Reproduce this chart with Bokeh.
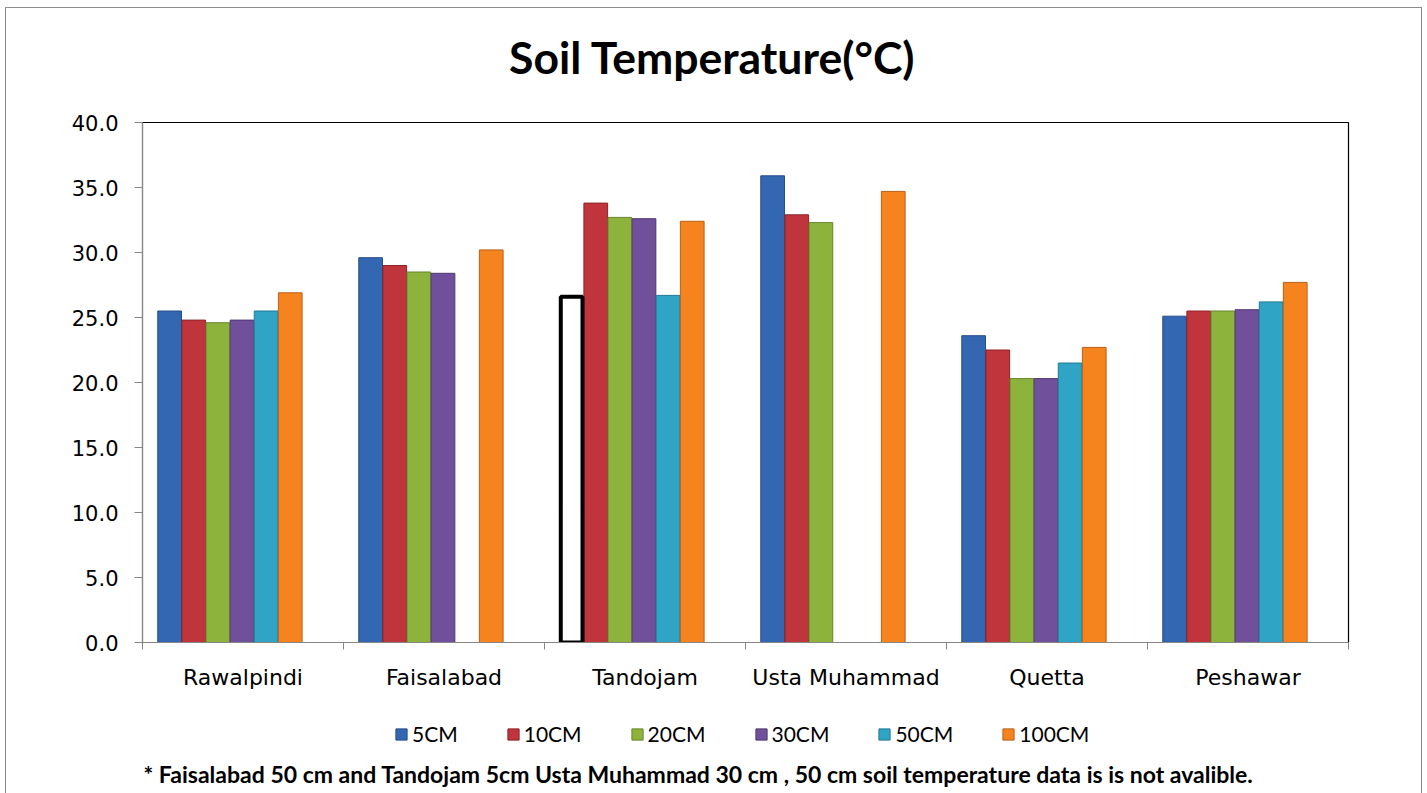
from bokeh.plotting import figure
from bokeh.layouts import column
from bokeh.models import (ColumnDataSource, FixedTicker, Legend, LegendItem,
                          Label, NumeralTickFormatter)
from bokeh.transform import dodge
from bokeh.embed import file_html
from bokeh.resources import INLINE

nan = float("nan")

cities = ["Rawalpindi", "Faisalabad", "Tandojam", "Usta Muhammad", "Quetta", "Peshawar"]
depths = ["5CM", "10CM", "20CM", "30CM", "50CM", "100CM"]

t5 = [25.5, 29.6, nan, 35.9, 23.6, 25.1]
t10 = [24.8, 29.0, 33.8, 32.9, 22.5, 25.5]
t20 = [24.6, 28.5, 32.7, 32.3, 20.3, 25.5]
t30 = [24.8, 28.4, 32.6, nan, 20.3, 25.6]
t50 = [25.5, nan, 26.7, nan, 21.5, 26.2]
t100 = [26.9, 30.2, 32.4, 34.7, 22.7, 27.7]

# hollow black placeholder box drawn in the Tandojam 5CM slot
placeholder_city = ["Tandojam"]
placeholder_value = [26.6]

y_ticks = [0, 5, 10, 15, 20, 25, 30, 35, 40]

title_text = "Soil Temperature(°C)"
footnote = ("* Faisalabad 50 cm and Tandojam 5cm Usta Muhammad 30 cm , 50 cm  "
            "soil temperature data  is is not avalible.")

series = [t5, t10, t20, t30, t50, t100]
colors = ["#3467B1", "#C0353B", "#8DB33D", "#71509B", "#2FA4C4", "#F5841F"]
edges = ["#244E8A", "#8E2328", "#66852A", "#503873", "#217A93", "#B9601A"]
offsets = [-0.365, -0.245, -0.125, -0.005, 0.115, 0.235]
bar_w = 0.118

W = 1415

# top strip: title (frames of all strips are aligned by the column layout)
p0 = figure(width=W, height=100, output_backend="svg", toolbar_location=None,
            x_range=(0, 1), y_range=(0, 1), x_axis_location=None,
            y_axis_location=None, min_border=0)
p0.xgrid.visible = False
p0.ygrid.visible = False
p0.outline_line_color = None
p0.add_layout(Label(x=570, y=52, x_units="screen", y_units="screen", text=title_text,
                    text_font="Lato", text_font_style="bold", text_font_size="44.5px",
                    text_color="black", text_align="center",
                    text_baseline="alphabetic"))

xs = list(range(len(cities)))
data = {"x": xs}
for d, s in zip(depths, series):
    data[d] = s
src = ColumnDataSource(data)

p = figure(width=W, height=592, frame_width=1206, frame_height=520,
           output_backend="svg", toolbar_location=None,
           x_range=(-0.5, len(cities) - 0.5), y_range=(0, 40),
           min_border_left=136, min_border_right=73, min_border_top=14,
           min_border_bottom=58)

p.xgrid.visible = False
p.ygrid.visible = False
p.outline_line_color = "black"
p.outline_line_width = 1.2

for d, c, e, off in zip(depths, colors, edges, offsets):
    p.vbar(x=dodge("x", off, range=p.x_range), top=d, width=bar_w, source=src,
           fill_color=c, line_color=e, line_width=1)

ph_src = ColumnDataSource({"x": [cities.index(c) for c in placeholder_city],
                           "top": placeholder_value})
p.vbar(x=dodge("x", offsets[0], range=p.x_range), top="top", width=bar_w - 0.01,
       source=ph_src, fill_color="white", line_color="black", line_width=4)

# x axis
xa = p.xaxis[0]
xa.ticker = FixedTicker(ticks=xs, minor_ticks=[i - 0.5 for i in range(len(cities) + 1)])
xa.major_label_overrides = {i: c for i, c in enumerate(cities)}
xa.major_tick_in = 0
xa.major_tick_out = 0
xa.minor_tick_in = 0
xa.minor_tick_out = 7
xa.minor_tick_line_color = "#868686"
xa.axis_line_color = "#868686"
xa.major_label_text_font = "DejaVu Sans"
xa.major_label_text_font_size = "22px"
xa.major_label_text_color = "black"
xa.major_label_standoff = 15

ya = p.yaxis[0]
ya.ticker = FixedTicker(ticks=y_ticks)
ya.formatter = NumeralTickFormatter(format="0.0")
ya.major_tick_in = 0
ya.major_tick_out = 8
ya.minor_tick_line_color = None
ya.major_tick_line_color = "#868686"
ya.axis_line_color = "#868686"
ya.major_label_text_font = "DejaVu Sans"
ya.major_label_text_font_size = "21px"
ya.major_label_text_color = "black"
ya.major_label_standoff = 16

# lower strip: legend and footnote
p2 = figure(width=W, height=93, output_backend="svg", toolbar_location=None,
            x_range=(0, 1), y_range=(0, 1), x_axis_location=None,
            y_axis_location=None, min_border=0)
p2.xgrid.visible = False
p2.ygrid.visible = False
p2.outline_line_color = None

dummy = ColumnDataSource({"x": [nan], "top": [nan]})
items = []
for d, c, e in zip(depths, colors, edges):
    r = p2.vbar(x="x", top="top", width=0.01, source=dummy, fill_color=c, line_color=e)
    items.append(LegendItem(label=d, renderers=[r]))

legend = Legend(items=items, orientation="horizontal", location=(252, 47),
                glyph_width=14, glyph_height=14, label_text_font="Lato",
                label_text_font_size="21px", label_standoff=4, spacing=48,
                border_line_color=None, background_fill_alpha=0, margin=0,
                padding=4, label_text_color="black")
p2.add_layout(legend, "center")

note = Label(x=1, y=20, x_units="screen", y_units="screen", text=footnote,
             text_font="Lato", text_font_style="bold", text_font_size="23px",
             text_color="black", text_align="left", text_baseline="middle")
p2.add_layout(note)

layout = column(p0, p, p2, spacing=0,
                styles={"margin": "7px 5px 0px 5px",
                        "border-left": "1px solid #8c8c8c",
                        "border-top": "1px solid #8c8c8c",
                        "border-right": "1px solid #8c8c8c"})

open("out.html", "w").write(file_html(layout, INLINE))
